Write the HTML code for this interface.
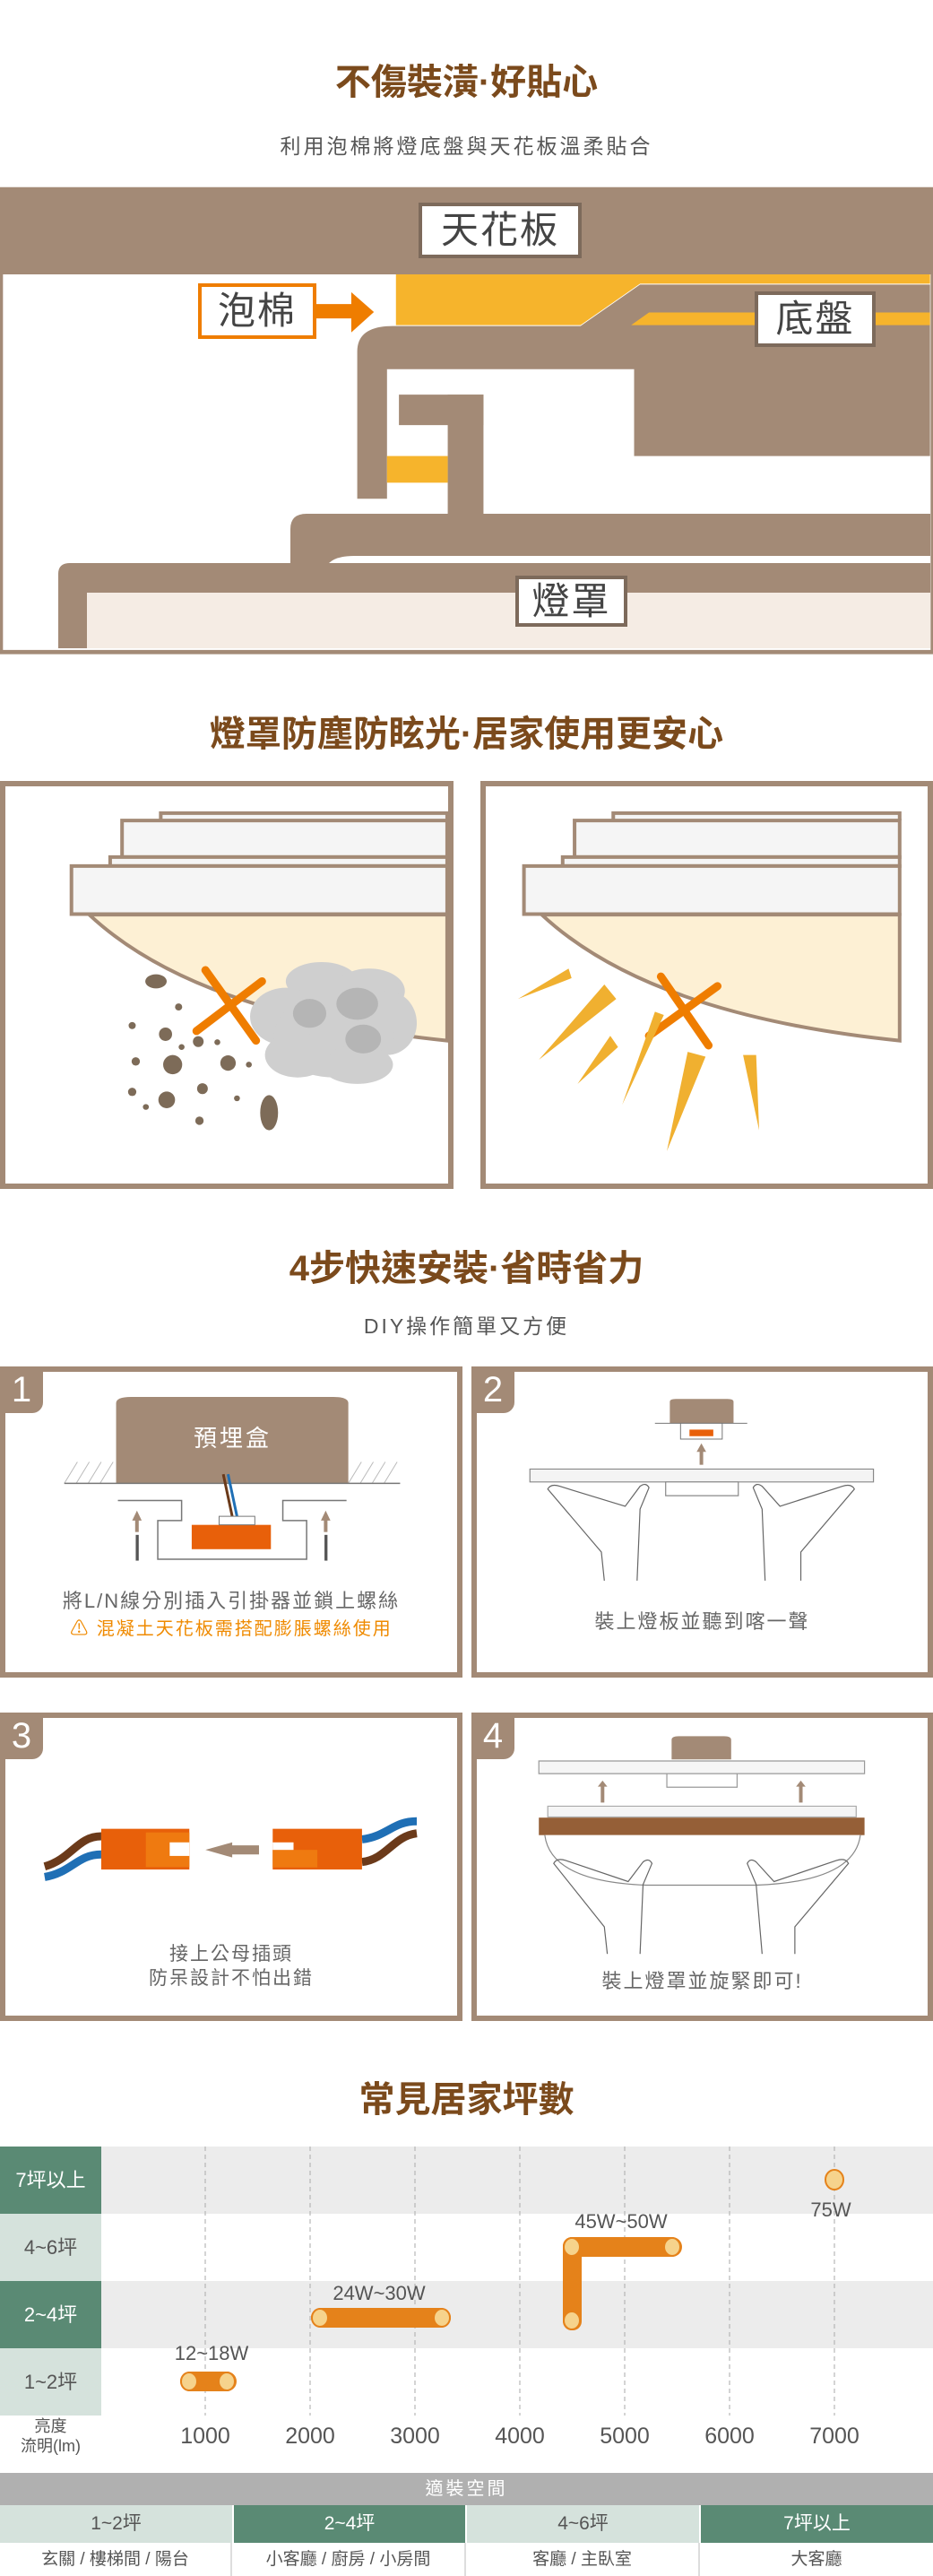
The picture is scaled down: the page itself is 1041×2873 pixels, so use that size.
<!DOCTYPE html>
<html><head><meta charset="utf-8">
<style>
*{margin:0;padding:0;box-sizing:border-box}
body{width:1041px;height:2873px;position:relative;background:#fff;overflow:hidden;font-family:"Liberation Sans","Noto Sans CJK TC",sans-serif}
.a{position:absolute}
.t{position:absolute;left:0;width:1041px;text-align:center;white-space:nowrap}
.h{color:#7b4a1c;font-size:40px;font-weight:bold;line-height:50px}
.sub{color:#555;font-size:23px;letter-spacing:3px;line-height:30px}
.lbl{position:absolute;background:#fff;border:4px solid #7d6a5b;color:#444;font-size:42px;text-align:center;letter-spacing:2px}
.pan{position:absolute;border:6px solid #a38a76;background:#fff}
.tab{position:absolute;left:0;top:0;width:48px;height:52px;background:#a38a76;color:#fff;font-size:40px;line-height:52px;text-align:center;border-bottom-right-radius:12px}
.pt{position:absolute;text-align:center;color:#666;font-size:22px;letter-spacing:2px;white-space:nowrap}
svg{position:absolute;left:0}
</style></head><body>

<div class="t h" style="top:67px">不傷裝潢·好貼心</div>
<div class="t sub" style="top:148px">利用泡棉將燈底盤與天花板溫柔貼合</div>

<svg style="top:0" width="1041" height="740" viewBox="0 0 1567 1567" preserveAspectRatio="none">
<rect x="0" y="442" width="1567" height="1103" fill="#a38a76"/>
<rect x="5" y="648" width="1558" height="887" fill="#fff"/>
<path d="M665,648 L1562,648 L1562,670 L1075,670 L975,768 L665,768 Z" fill="#f6b42c"/>
<path d="M600,1178 L600,830 Q600,770 660,770 L975,770 L1075,672 L1562,672 L1562,1077 L1065,1077 L1065,872 L650,872 L650,1178 Z" fill="#a38a76"/>
<path d="M1090,738 L1562,738 L1562,768 L1060,768 Z" fill="#f6b42c"/>
<rect x="670" y="932" width="142" height="72" fill="#a38a76"/>
<rect x="752" y="932" width="60" height="290" fill="#a38a76"/>
<rect x="650" y="1077" width="102" height="63" fill="#f6b42c"/>
<path d="M531,718 L590,718 L590,690 L628,737 L590,785 L590,752 L531,752 Z" fill="#ef7d00"/>
</svg>
<svg style="top:0" width="1041" height="740">
<path d="M324,628 L324,590 Q324,573 342,573 L1038,573 L1038,620 L395,620 Q375,620 367,628 Z" fill="#a38a76"/>
<path d="M65,723 L65,640 Q65,628 78,628 L1038,628 L1038,661 L97,661 L97,723 Z" fill="#a38a76"/>
<rect x="97" y="661" width="941" height="62" fill="#f5ece4"/>
</svg>
<div class="lbl" style="left:467px;top:226px;width:182px;height:62px;line-height:54px">天花板</div>
<div class="lbl" style="left:221px;top:316px;width:132px;height:62px;line-height:54px;border-color:#ef7d00">泡棉</div>
<div class="lbl" style="left:842px;top:325px;width:135px;height:62px;line-height:54px">底盤</div>
<div class="lbl" style="left:575px;top:642px;width:125px;height:57px;line-height:49px">燈罩</div>

<div class="t h" style="top:794px">燈罩防塵防眩光·居家使用更安心</div>
<div class="pan" style="left:0;top:871px;width:506px;height:455px"></div>
<div class="pan" style="left:536px;top:871px;width:505px;height:455px"></div>
<svg style="top:780px" width="1041" height="560" viewBox="0 0 1567 1567" preserveAspectRatio="none">
<g>
<path d="M270,378 L270,355 L751,355 L751,378" fill="#f5f5f5" stroke="#a38a76" stroke-width="4" vector-effect="non-scaling-stroke"/>
<rect x="205" y="378" width="546" height="114" fill="#f5f5f5" stroke="#a38a76" stroke-width="4" vector-effect="non-scaling-stroke"/>
<rect x="185" y="492" width="566" height="28" fill="#f5f5f5" stroke="#a38a76" stroke-width="4" vector-effect="non-scaling-stroke"/>
<rect x="120" y="520" width="631" height="150" fill="#f5f5f5" stroke="#a38a76" stroke-width="4" vector-effect="non-scaling-stroke"/>
<path d="M150,672 Q330,985 751,1065 L751,672 Z" fill="#fdf0d4" stroke="#a38a76" stroke-width="4" vector-effect="non-scaling-stroke"/>
</g>
<g transform="translate(760,0)">
<path d="M270,378 L270,355 L751,355 L751,378" fill="#f5f5f5" stroke="#a38a76" stroke-width="4" vector-effect="non-scaling-stroke"/>
<rect x="205" y="378" width="546" height="114" fill="#f5f5f5" stroke="#a38a76" stroke-width="4" vector-effect="non-scaling-stroke"/>
<rect x="185" y="492" width="566" height="28" fill="#f5f5f5" stroke="#a38a76" stroke-width="4" vector-effect="non-scaling-stroke"/>
<rect x="120" y="520" width="631" height="150" fill="#f5f5f5" stroke="#a38a76" stroke-width="4" vector-effect="non-scaling-stroke"/>
<path d="M150,672 Q330,985 751,1065 L751,672 Z" fill="#fdf0d4" stroke="#a38a76" stroke-width="4" vector-effect="non-scaling-stroke"/>
</g>
<g fill="#7d6b58">
<ellipse cx="300" cy="960" rx="6" ry="11"/><ellipse cx="222" cy="1018" rx="6" ry="11"/><ellipse cx="278" cy="1045" rx="11" ry="21"/>
<ellipse cx="333" cy="1068" rx="9" ry="17"/><ellipse cx="305" cy="1085" rx="5" ry="9"/><ellipse cx="290" cy="1140" rx="16" ry="30"/>
<ellipse cx="383" cy="1135" rx="13" ry="24"/><ellipse cx="228" cy="1130" rx="7" ry="13"/><ellipse cx="418" cy="1140" rx="5" ry="9"/>
<ellipse cx="340" cy="1215" rx="9" ry="17"/><ellipse cx="222" cy="1225" rx="7" ry="13"/><ellipse cx="280" cy="1250" rx="14" ry="26"/>
<ellipse cx="245" cy="1272" rx="5" ry="9"/><ellipse cx="398" cy="1245" rx="5" ry="9"/><ellipse cx="335" cy="1315" rx="7" ry="13"/><ellipse cx="365" cy="1070" rx="5" ry="9"/>
<ellipse cx="262" cy="880" rx="18" ry="22"/><ellipse cx="452" cy="1290" rx="15" ry="55"/>
</g>
<g fill="#cfcfcf">
<ellipse cx="540" cy="880" rx="60" ry="60"/><ellipse cx="620" cy="910" rx="60" ry="70"/><ellipse cx="480" cy="990" rx="60" ry="90"/>
<ellipse cx="650" cy="1010" rx="50" ry="100"/><ellipse cx="560" cy="1050" rx="100" ry="130"/><ellipse cx="600" cy="1140" rx="60" ry="60"/><ellipse cx="500" cy="1110" rx="55" ry="70"/>
</g>
<g fill="#b5b5b5"><ellipse cx="520" cy="980" rx="28" ry="45"/><ellipse cx="600" cy="950" rx="35" ry="50"/><ellipse cx="610" cy="1060" rx="30" ry="45"/></g>
<g stroke="#ef7d00" stroke-width="9" stroke-linecap="round" fill="none">
<line x1="345" y1="845" x2="430" y2="1065" vector-effect="non-scaling-stroke"/><line x1="440" y1="880" x2="330" y2="1035" vector-effect="non-scaling-stroke"/>
<line x1="1110" y1="865" x2="1190" y2="1080" vector-effect="non-scaling-stroke"/><line x1="1205" y1="895" x2="1090" y2="1050" vector-effect="non-scaling-stroke"/>
</g>
<g fill="#f0b030">
<polygon points="870,935 955,840 960,870"/><polygon points="905,1125 1015,890 1035,935"/><polygon points="970,1200 1025,1050 1038,1085"/>
<polygon points="1045,1265 1100,975 1115,985"/><polygon points="1120,1410 1155,1100 1185,1115"/><polygon points="1248,1110 1270,1110 1275,1345"/>
</g>
</svg>

<div class="t h" style="top:1390px">4步快速安裝·省時省力</div>
<div class="t sub" style="top:1464px">DIY操作簡單又方便</div>
<div class="pan" style="left:0;top:1524px;width:516px;height:347px"><div class="tab" style="left:-6px;top:-6px">1</div></div>
<div class="pan" style="left:526px;top:1524px;width:515px;height:347px"><div class="tab" style="left:-6px;top:-6px">2</div></div>
<div class="pan" style="left:0;top:1910px;width:516px;height:344px"><div class="tab" style="left:-6px;top:-6px">3</div></div>
<div class="pan" style="left:526px;top:1910px;width:515px;height:344px"><div class="tab" style="left:-6px;top:-6px">4</div></div>

<svg style="top:1380px" width="1041" height="500" viewBox="0 0 1567 1567" preserveAspectRatio="none">
<g stroke="#bbb" stroke-width="1">
<path d="M108,860 L130,785 M128,860 L150,785 M148,860 L170,785 M168,860 L190,785 M585,860 L607,785 M605,860 L627,785 M625,860 L647,785 M645,860 L667,785" vector-effect="non-scaling-stroke"/>
</g>
<path d="M195,860 L195,580 Q195,558 220,558 L560,558 Q585,558 585,580 L585,860 Z" fill="#a38a76"/>
<line x1="108" y1="860" x2="672" y2="860" stroke="#777" stroke-width="1.5" vector-effect="non-scaling-stroke"/>
<line x1="375" y1="828" x2="390" y2="975" stroke="#6b3a1a" stroke-width="3" vector-effect="non-scaling-stroke"/>
<line x1="383" y1="828" x2="398" y2="975" stroke="#1f6fb5" stroke-width="3" vector-effect="non-scaling-stroke"/>
<path d="M198,920 L305,920 L305,990 L265,990 L265,1125 L515,1125 L515,990 L475,990 L475,920 L582,920" fill="none" stroke="#777" stroke-width="1.5" vector-effect="non-scaling-stroke"/>
<rect x="322" y="1005" width="133" height="85" fill="#e8600a"/>
<rect x="368" y="975" width="60" height="30" fill="#fff" stroke="#777" stroke-width="1" vector-effect="non-scaling-stroke"/>
<g fill="#a38a76"><rect x="227" y="985" width="6" height="45"/><polygon points="222,990 230,955 238,990"/><rect x="544" y="985" width="6" height="45"/><polygon points="539,990 547,955 555,990"/>
<rect x="1175" y="745" width="6" height="50"/><polygon points="1170,750 1178,720 1186,750"/></g>
<g fill="#555"><rect x="228" y="1040" width="5" height="90"/><rect x="545" y="1040" width="5" height="90"/></g>
<path d="M1125,650 L1125,575 Q1125,565 1135,565 L1222,565 Q1232,565 1232,575 L1232,650 Z" fill="#a38a76"/>
<line x1="1100" y1="650" x2="1255" y2="650" stroke="#777" stroke-width="1" vector-effect="non-scaling-stroke"/>
<rect x="1143" y="650" width="70" height="55" fill="#fff" stroke="#777" stroke-width="1" vector-effect="non-scaling-stroke"/>
<rect x="1158" y="672" width="40" height="23" fill="#e8600a"/>
<rect x="890" y="810" width="577" height="45" fill="#f4f4f4" stroke="#888" stroke-width="1.2" vector-effect="non-scaling-stroke"/>
<rect x="1118" y="855" width="122" height="48" fill="#fff" stroke="#888" stroke-width="1.2" vector-effect="non-scaling-stroke"/>
<g fill="none" stroke="#666" stroke-width="1.2">
<path d="M1015,1200 L1010,1100 L920,880 Q925,860 940,870 L1050,940 L1075,870 Q1085,855 1090,875 L1075,950 L1070,1200" vector-effect="non-scaling-stroke"/>
<path d="M1345,1200 L1345,1100 L1435,880 Q1430,860 1415,870 L1310,940 L1280,870 Q1270,855 1265,875 L1280,950 L1285,1200" vector-effect="non-scaling-stroke"/>
</g>
</svg>
<div class="a" style="left:130px;top:1584px;width:259px;text-align:center;color:#fff;font-size:26px;letter-spacing:3px">預埋盒</div>
<div class="pt" style="left:0;width:516px;top:1768px">將L/N線分別插入引掛器並鎖上螺絲</div>
<div class="pt" style="left:0;width:516px;top:1800px;color:#ef8a00;font-size:20px">⚠ 混凝土天花板需搭配膨脹螺絲使用</div>
<div class="pt" style="left:526px;width:515px;top:1791px">裝上燈板並聽到喀一聲</div>

<svg style="top:1890px" width="1041" height="380" viewBox="0 0 1567 1130" preserveAspectRatio="none">
<path d="M75,570 C120,545 130,470 170,470" fill="none" stroke="#6b3a1a" stroke-width="9" vector-effect="non-scaling-stroke"/>
<path d="M75,605 C120,590 130,530 170,530" fill="none" stroke="#1f6fb5" stroke-width="9" vector-effect="non-scaling-stroke"/>
<path d="M608,480 C650,470 660,420 700,420" fill="none" stroke="#1f6fb5" stroke-width="9" vector-effect="non-scaling-stroke"/>
<path d="M608,555 C650,545 660,470 700,460" fill="none" stroke="#6b3a1a" stroke-width="9" vector-effect="non-scaling-stroke"/>
<rect x="170" y="445" width="148" height="135" fill="#e8600a"/>
<rect x="245" y="457" width="73" height="115" fill="#ef7a10"/>
<rect x="285" y="490" width="33" height="45" fill="#fff"/>
<polygon points="345,515 390,490 390,500 435,500 435,530 390,530 390,540" fill="#a38a76"/>
<rect x="458" y="445" width="150" height="135" fill="#e8600a"/>
<rect x="458" y="515" width="75" height="58" fill="#ef7a10"/>
<rect x="458" y="490" width="35" height="25" fill="#fff"/>
<path d="M1128,215 L1128,150 Q1128,138 1140,138 L1216,138 Q1228,138 1228,150 L1228,215 Z" fill="#a38a76"/>
<rect x="905" y="220" width="547" height="42" fill="#f5f5f5" stroke="#999" stroke-width="1.2" vector-effect="non-scaling-stroke"/>
<rect x="1120" y="262" width="118" height="45" fill="#fff" stroke="#999" stroke-width="1.2" vector-effect="non-scaling-stroke"/>
<g fill="#a38a76"><rect x="1009" y="300" width="6" height="58"/><polygon points="1004,305 1012,285 1020,305"/><rect x="1342" y="300" width="6" height="58"/><polygon points="1337,305 1345,285 1353,305"/></g>
<rect x="920" y="370" width="518" height="36" fill="#f5f5f5" stroke="#aaa" stroke-width="1.2" vector-effect="non-scaling-stroke"/>
<rect x="905" y="408" width="547" height="58" fill="#955f37"/>
<path d="M915,466 Q925,620 1085,632 L1270,632 Q1435,620 1445,466" fill="#fff" stroke="#888" stroke-width="1.2" vector-effect="non-scaling-stroke"/>
<g fill="none" stroke="#666" stroke-width="1.2">
<path d="M1020,860 L1015,770 L930,560 Q935,540 950,550 L1055,620 L1080,555 Q1090,540 1095,560 L1080,630 L1075,860" vector-effect="non-scaling-stroke"/>
<path d="M1335,860 L1335,770 L1425,560 Q1420,540 1405,550 L1300,620 L1270,555 Q1260,540 1255,560 L1270,630 L1280,860" vector-effect="non-scaling-stroke"/>
</g>
</svg>
<div class="pt" style="left:0;width:516px;top:2166px;line-height:27px;font-size:21px">接上公母插頭<br>防呆設計不怕出錯</div>
<div class="pt" style="left:526px;width:515px;top:2192px">裝上燈罩並旋緊即可!</div>

<div class="t h" style="top:2317px">常見居家坪數</div>
<div class="a" style="left:113px;top:2394px;width:928px;height:75px;background:#ececec"></div>
<div class="a" style="left:113px;top:2544px;width:928px;height:75px;background:#ececec"></div>
<div class="a" style="left:0;top:2394px;width:113px;height:75px;background:#5a8a74;color:#fff;font-size:22px;line-height:75px;text-align:center">7坪以上</div>
<div class="a" style="left:0;top:2469px;width:113px;height:75px;background:#d5e2dc;color:#555;font-size:22px;line-height:75px;text-align:center">4~6坪</div>
<div class="a" style="left:0;top:2544px;width:113px;height:75px;background:#5a8a74;color:#fff;font-size:22px;line-height:75px;text-align:center">2~4坪</div>
<div class="a" style="left:0;top:2619px;width:113px;height:75px;background:#d5e2dc;color:#555;font-size:22px;line-height:75px;text-align:center">1~2坪</div>
<svg style="top:2394px" width="1041" height="300">
<g stroke="#aaa" stroke-width="1" stroke-dasharray="5,4">
<line x1="229" y1="0" x2="229" y2="300"/><line x1="346" y1="0" x2="346" y2="300"/><line x1="463" y1="0" x2="463" y2="300"/><line x1="580" y1="0" x2="580" y2="300"/><line x1="697" y1="0" x2="697" y2="300"/><line x1="814" y1="0" x2="814" y2="300"/><line x1="931" y1="0" x2="931" y2="300"/>
</g>
<g fill="#e5821a">
<rect x="201" y="251" width="63" height="22" rx="11"/>
<rect x="347" y="180" width="156" height="22" rx="11"/>
<rect x="628" y="101" width="133" height="22" rx="11"/>
<rect x="628" y="101" width="21" height="104" rx="10"/>
</g>
<g fill="#f6d38c" stroke="#e5821a" stroke-width="2">
<ellipse cx="211" cy="262" rx="9" ry="10"/><ellipse cx="253" cy="262" rx="9" ry="10"/>
<ellipse cx="357" cy="191" rx="9" ry="10"/><ellipse cx="493" cy="191" rx="9" ry="10"/>
<ellipse cx="638" cy="112" rx="9" ry="10"/><ellipse cx="750" cy="112" rx="9" ry="10"/><ellipse cx="638" cy="194" rx="9" ry="10"/>
<ellipse cx="931" cy="37" rx="10" ry="11"/>
</g>
</svg>
<div class="a" style="left:176px;top:2612px;width:120px;text-align:center;color:#555;font-size:22px">12~18W</div>
<div class="a" style="left:363px;top:2545px;width:120px;text-align:center;color:#555;font-size:22px">24W~30W</div>
<div class="a" style="left:633px;top:2465px;width:120px;text-align:center;color:#555;font-size:22px">45W~50W</div>
<div class="a" style="left:877px;top:2452px;width:100px;text-align:center;color:#555;font-size:22px">75W</div>
<div class="a" style="left:0;top:2695px;width:113px;text-align:center;color:#555;font-size:18px;line-height:22px">亮度<br>流明(lm)</div>
<div class="a" style="left:179px;top:2703px;width:100px;text-align:center;color:#555;font-size:25px">1000</div>
<div class="a" style="left:296px;top:2703px;width:100px;text-align:center;color:#555;font-size:25px">2000</div>
<div class="a" style="left:413px;top:2703px;width:100px;text-align:center;color:#555;font-size:25px">3000</div>
<div class="a" style="left:530px;top:2703px;width:100px;text-align:center;color:#555;font-size:25px">4000</div>
<div class="a" style="left:647px;top:2703px;width:100px;text-align:center;color:#555;font-size:25px">5000</div>
<div class="a" style="left:764px;top:2703px;width:100px;text-align:center;color:#555;font-size:25px">6000</div>
<div class="a" style="left:881px;top:2703px;width:100px;text-align:center;color:#555;font-size:25px">7000</div>

<div class="a" style="left:0;top:2758px;width:1041px;height:36px;background:#b0b0b0;color:#fff;font-size:20px;line-height:36px;text-align:center;letter-spacing:3px">適裝空間</div>
<div class="a" style="left:0;top:2794px;width:259px;height:42px;background:#d5e2dc;color:#555;font-size:21px;line-height:42px;text-align:center">1~2坪</div>
<div class="a" style="left:261px;top:2794px;width:258px;height:42px;background:#5a8a74;color:#fff;font-size:21px;line-height:42px;text-align:center">2~4坪</div>
<div class="a" style="left:521px;top:2794px;width:259px;height:42px;background:#d5e2dc;color:#555;font-size:21px;line-height:42px;text-align:center">4~6坪</div>
<div class="a" style="left:782px;top:2794px;width:259px;height:42px;background:#5a8a74;color:#fff;font-size:21px;line-height:42px;text-align:center">7坪以上</div>
<div class="a" style="left:0;top:2836px;width:259px;height:37px;color:#555;font-size:19px;line-height:37px;text-align:center;border-right:2px solid #ddd">玄關 / 樓梯間 / 陽台</div>
<div class="a" style="left:259px;top:2836px;width:261px;height:37px;color:#555;font-size:19px;line-height:37px;text-align:center;border-right:2px solid #ddd">小客廳 / 廚房 / 小房間</div>
<div class="a" style="left:520px;top:2836px;width:261px;height:37px;color:#555;font-size:19px;line-height:37px;text-align:center;border-right:2px solid #ddd">客廳 / 主臥室</div>
<div class="a" style="left:781px;top:2836px;width:260px;height:37px;color:#555;font-size:19px;line-height:37px;text-align:center">大客廳</div>
</body></html>
